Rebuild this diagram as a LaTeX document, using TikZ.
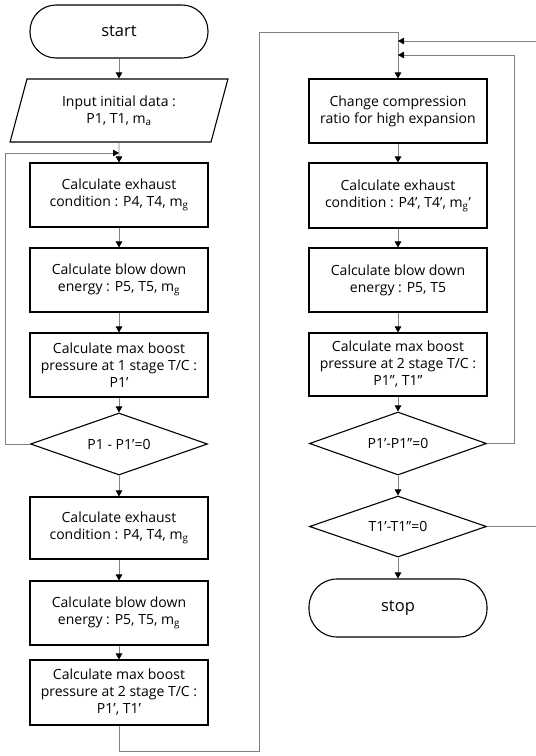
\documentclass[tikz,border=0pt]{standalone}
\usepackage{fontspec}
\setmainfont{Open Sans}
\usetikzlibrary{arrows.meta,shapes.geometric}
\definecolor{conngray}{RGB}{128,128,128}
\tikzset{
  every node/.style={font=\fontsize{14}{17}\selectfont, align=center},
  procbox/.style={draw=black, line width=1.1pt, rectangle, minimum width=178pt, minimum height=64pt, inner sep=0pt},
  termbox/.style={draw=black, line width=1.1pt, rectangle, rounded corners=26pt, minimum width=178pt, minimum height=53pt, inner sep=0pt, font=\fontsize{16.5}{19}\selectfont},
  iobox/.style={draw=black, line width=1.1pt, trapezium, trapezium left angle=70.7, trapezium right angle=109.3, trapezium stretches=true, minimum width=218pt, minimum height=63pt, inner sep=0pt},
  decbox/.style={draw=black, line width=1.1pt, diamond, aspect=2.8, minimum width=177pt, minimum height=62pt, inner sep=0pt},
  conn/.style={draw=conngray, line width=0.9pt, -{Triangle[length=6pt,width=6.5pt,color=black]}},
  plainconn/.style={draw=conngray, line width=0.9pt}
}
\begin{document}
\begin{tikzpicture}[x=1pt,y=-1pt]
\useasboundingbox (0,0) rectangle (536,756);
\fill[white] (0,0) rectangle (536,756);
% left column
\node[termbox] (start) at (119,31.5) {start};
\node[iobox] (input) at (119,110.5) {Input initial data :\\P1, T1, m\textsubscript{a}};
\node[procbox] (b1) at (119,195) {Calculate exhaust\\condition : P4, T4, m\textsubscript{g}};
\node[procbox] (b2) at (119,280) {Calculate blow down\\energy : P5, T5, m\textsubscript{g}};
\node[procbox] (b3) at (119,365) {Calculate max boost\\pressure at 1 stage T/C :\\P1’};
\node[decbox] (d1) at (119,444) {P1 - P1’=0};
\node[procbox, minimum height=62pt] (b4) at (119,528) {Calculate exhaust\\condition : P4, T4, m\textsubscript{g}};
\node[procbox] (b5) at (119,613) {Calculate blow down\\energy : P5, T5, m\textsubscript{g}};
\node[procbox, minimum height=65pt] (b6) at (119,692.5) {Calculate max boost\\pressure at 2 stage T/C :\\P1’, T1’};
% right column
\node[procbox] (r1) at (398,111) {Change compression\\ratio for high expansion};
\node[procbox, minimum height=65pt] (r2) at (398,195.5) {Calculate exhaust\\condition : P4’, T4’, m\textsubscript{g}’};
\node[procbox] (r3) at (398,280) {Calculate blow down\\energy : P5, T5};
\node[procbox, minimum height=63pt] (r4) at (398,364.5) {Calculate max boost\\pressure at 2 stage T/C :\\P1”, T1”};
\node[decbox, minimum height=63pt] (d2) at (398,443.5) {P1’-P1”=0};
\node[decbox, minimum height=61pt] (d3) at (398,526.5) {T1’-T1”=0};
\node[termbox, minimum height=58pt, rounded corners=28pt] (stop) at (398,608) {stop};
% coordinates
\coordinate (j1) at (119,153);
\coordinate (c1) at (5,153);
\coordinate (c2) at (259,751);
\coordinate (c3) at (398,32);
\coordinate (c4) at (514,55);
\coordinate (j2) at (398,55);
\coordinate (c5) at (536,526.5);
\coordinate (c6) at (536,41);
\coordinate (j3) at (398,41);
% connectors left
\draw[conn] (start) -- (input);
\draw[conn] (input) -- (b1);
\draw[conn] (b1) -- (b2);
\draw[conn] (b2) -- (b3);
\draw[conn] (b3) -- (d1);
\draw[conn] (d1.west) -| (c1) -- (j1);
\draw[conn] (d1) -- (b4);
\draw[conn] (b4) -- (b5);
\draw[conn] (b5) -- (b6);
\draw[conn] (b6.south) |- (c2) |- (c3) -- (r1.north);
% connectors right
\draw[conn] (r1) -- (r2);
\draw[conn] (r2) -- (r3);
\draw[conn] (r3) -- (r4);
\draw[conn] (r4) -- (d2);
\draw[conn] (d2.east) -| (c4) -- (j2);
\draw[conn] (d2) -- (d3);
\draw[plainconn] (d3.east) -- (c5);
\draw[conn] (c6) -- (j3);
\draw[conn] (d3) -- (stop);
\end{tikzpicture}
\end{document}
